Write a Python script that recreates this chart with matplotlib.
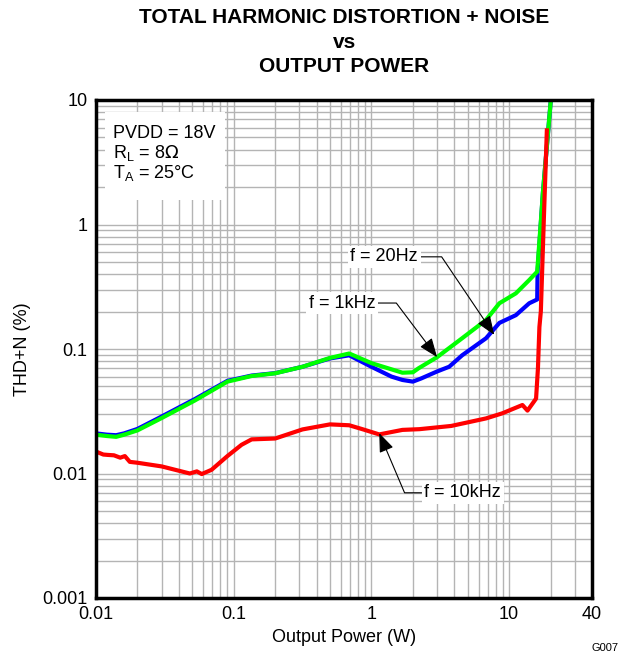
import matplotlib
matplotlib.use("Agg")
import matplotlib.pyplot as plt
from matplotlib.patches import Rectangle

plt.rcParams['font.family'] = ['Liberation Sans', 'DejaVu Sans']

# 20 Hz (blue) series
p_blue = [0.01, 0.012, 0.014, 0.016, 0.02, 0.03, 0.052, 0.09, 0.135, 0.2, 0.316, 0.5, 0.69,
          1.0, 1.4, 1.68, 2.0, 2.3, 3.0, 3.67, 4.56, 6.8, 8.5, 11.2, 14.0, 16.0, 16.1, 17.6, 20.5]
thd_blue = [0.021, 0.0205, 0.0203, 0.021, 0.0228, 0.0287, 0.0395, 0.0555, 0.0612, 0.064, 0.072, 0.084, 0.089,
            0.072, 0.060, 0.0564, 0.0547, 0.058, 0.066, 0.072, 0.089, 0.122, 0.162, 0.187, 0.233, 0.25, 0.42, 1.8, 13.0]

# 1 kHz (green) series
p_green = [0.01, 0.012, 0.014, 0.016, 0.02, 0.03, 0.052, 0.09, 0.135, 0.2, 0.316, 0.5, 0.69,
           1.0, 1.68, 2.0, 2.2, 3.0, 4.56, 6.8, 8.5, 11.2, 14.0, 16.0, 17.6, 20.5]
thd_green = [0.0205, 0.0200, 0.0197, 0.0205, 0.0222, 0.0279, 0.0385, 0.0547, 0.0607, 0.0638, 0.072, 0.0848, 0.092,
             0.077, 0.0645, 0.065, 0.070, 0.086, 0.122, 0.171, 0.233, 0.28, 0.358, 0.418, 1.8, 13.0]

# 10 kHz (red) series
p_red = [0.01, 0.0113, 0.0122, 0.0135, 0.0150, 0.0162, 0.0176, 0.02, 0.03, 0.048, 0.054, 0.0586, 0.069, 0.09,
         0.114, 0.135, 0.2, 0.316, 0.5, 0.69, 0.86, 1.14, 1.68, 2.23, 3.8, 6.8, 8.9, 12.5, 13.6, 15.2, 15.7,
         16.2, 16.6, 17.0, 17.9, 18.8]
thd_red = [0.015, 0.0142, 0.0141, 0.0140, 0.0134, 0.0138, 0.0124, 0.0122, 0.0114, 0.0100, 0.0104, 0.0099, 0.0107, 0.0138,
           0.017, 0.0188, 0.0191, 0.0226, 0.0248, 0.0244, 0.0227, 0.0206, 0.0224, 0.0227, 0.0241, 0.0277, 0.0304, 0.0355, 0.032, 0.038, 0.040,
           0.07, 0.15, 0.2, 1.15, 5.7]

x_ticks = [0.01, 0.1, 1, 10, 40]
x_ticklabels = ["0.01", "0.1", "1", "10", "40"]
y_ticks = [0.001, 0.01, 0.1, 1, 10]
y_ticklabels = ["0.001", "0.01", "0.1", "1", "10"]

fig = plt.figure(figsize=(6.27, 6.56), dpi=100)
ax = fig.add_axes([96/627, 1-598/656, (592-96)/627, (598-100)/656])
ax.set_xscale('log')
ax.set_yscale('log')
ax.set_xlim(0.01, 40)
ax.set_ylim(0.001, 10)

ax.grid(True, which='both', color='#b4b4b4', linewidth=1.0)
ax.set_axisbelow(True)

ax.plot(p_blue, thd_blue, color='#0000ff', lw=3.0, zorder=3, solid_joinstyle='round')
ax.plot(p_green, thd_green, color='#00ff00', lw=3.0, zorder=4, solid_joinstyle='round')
ax.plot(p_red, thd_red, color='#ff0000', lw=3.0, zorder=5, solid_joinstyle='round')

ax.set_xticks(x_ticks)
ax.set_xticklabels(x_ticklabels)
ax.set_yticks(y_ticks)
ax.set_yticklabels(y_ticklabels)
ax.xaxis.set_minor_formatter(matplotlib.ticker.NullFormatter())
ax.yaxis.set_minor_formatter(matplotlib.ticker.NullFormatter())
ax.tick_params(which='both', length=0, labelsize=13, pad=6)
for s in ax.spines.values():
    s.set_linewidth(2.5)
    s.set_zorder(10)

ax.set_xlabel("Output Power (W)", fontsize=13, labelpad=4)
ax.set_ylabel("THD+N (%)", fontsize=13, labelpad=8)

fig.suptitle("TOTAL HARMONIC DISTORTION + NOISE\nvs\nOUTPUT POWER",
             fontsize=15, fontweight='bold', x=344.5/627, y=0.988, linespacing=1.38)

# conditions box
fig.patches.append(Rectangle((105/627, 1-200/656), 120/627, 88/656, transform=fig.transFigure,
                             facecolor='white', edgecolor='none', zorder=2))
fig.text(113/627, 1-133/656, "PVDD = 18V", fontsize=13, va='center', zorder=11)
fig.text(113/627, 1-153/656, r"R$_\mathregular{L}$ = 8$\Omega$", fontsize=13, va='center', zorder=11)
fig.text(113/627, 1-173/656, r"T$_\mathregular{A}$ = 25°C", fontsize=13, va='center', zorder=11)

arrow = dict(arrowstyle='-|>,head_length=0.9,head_width=0.35', color='black', lw=0.8,
             shrinkA=0, shrinkB=0)
bbox = dict(facecolor='white', edgecolor='none', pad=2)

ax.annotate("f = 20Hz", xy=(7.8, 0.13), xytext=(1.24, 0.55), fontsize=13,
            ha='center', va='center', bbox=bbox, zorder=12,
            arrowprops=dict(arrow, connectionstyle='angle,angleA=0,angleB=-56,rad=0'))
ax.annotate("f = 1kHz", xy=(3.0, 0.086), xytext=(0.61, 0.234), fontsize=13,
            ha='center', va='center', bbox=bbox, zorder=12,
            arrowprops=dict(arrow, connectionstyle='angle,angleA=0,angleB=-53,rad=0'))
ax.annotate("f = 10kHz", xy=(1.14, 0.0211), xytext=(4.6, 0.0070), fontsize=13,
            ha='center', va='center', bbox=bbox, zorder=12,
            arrowprops=dict(arrow, connectionstyle='angle,angleA=180,angleB=-67,rad=0'))

fig.text(605/627, 1-648/656, "G007", fontsize=8, ha='center', va='center')

fig.savefig("out.png", dpi=100)
